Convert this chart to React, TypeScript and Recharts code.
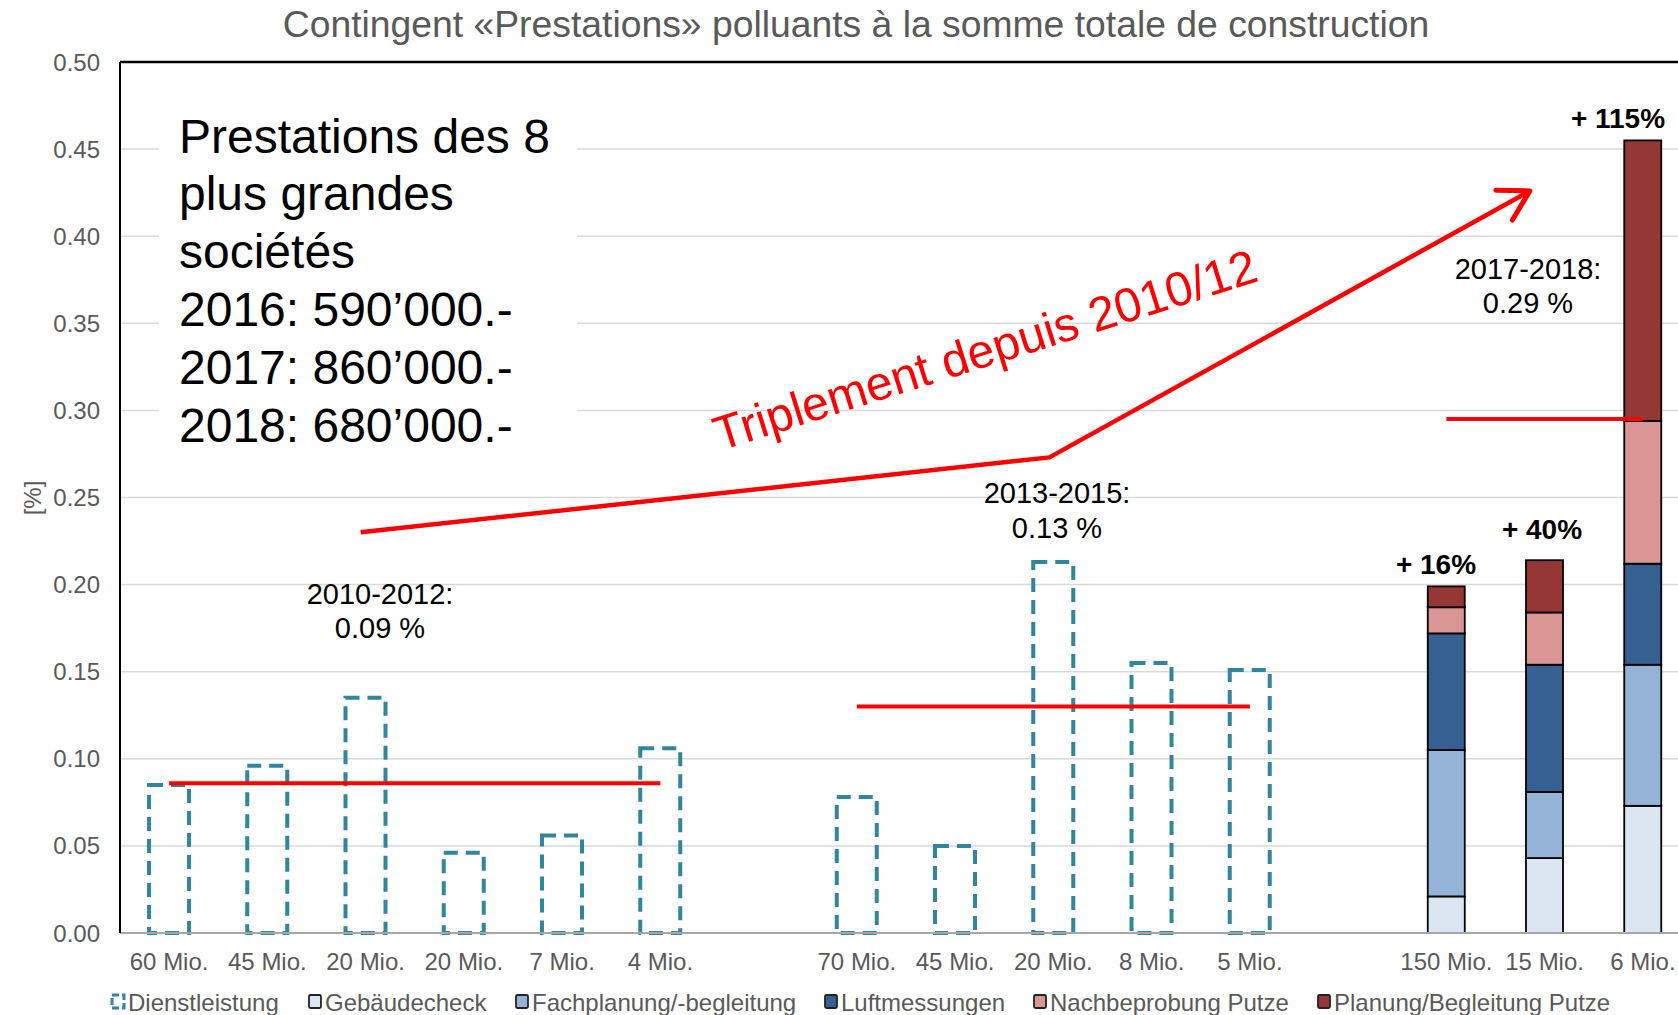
import React from "react";
import {
  ComposedChart,
  Bar,
  Line,
  XAxis,
  YAxis,
  CartesianGrid,
  ReferenceLine,
} from "recharts";

const FONT = '"Liberation Sans", Arial, sans-serif';

const categories = [
  "60 Mio.", "45 Mio.", "20 Mio.", "20 Mio.", "7 Mio.", "4 Mio.", "",
  "70 Mio.", "45 Mio.", "20 Mio.", "8 Mio.", "5 Mio.", "",
  "150 Mio.", "15 Mio.", "6 Mio.",
];

const yTicks = [0, 0.05, 0.1, 0.15, 0.2, 0.25, 0.3, 0.35, 0.4, 0.45, 0.5];

const dienstleistung = [0.085, 0.096, 0.135, 0.046, 0.056, 0.106, null, 0.078, 0.05, 0.213, 0.155, 0.151, null, null, null, null];
const gebaeudecheck = [null, null, null, null, null, null, null, null, null, null, null, null, null, 0.021, 0.043, 0.073];
const fachplanung = [null, null, null, null, null, null, null, null, null, null, null, null, null, 0.084, 0.038, 0.081];
const luftmessungen = [null, null, null, null, null, null, null, null, null, null, null, null, null, 0.067, 0.073, 0.058];
const nachbeprobung = [null, null, null, null, null, null, null, null, null, null, null, null, null, 0.015, 0.03, 0.082];
const planungPutze = [null, null, null, null, null, null, null, null, null, null, null, null, null, 0.012, 0.03, 0.161];

// period averages (red horizontal lines)
const avg2010 = [0.086, 0.086, 0.086, 0.086, 0.086, 0.086, null, null, null, null, null, null, null, null, null, null];
const avg2013 = [null, null, null, null, null, null, null, 0.13, 0.13, 0.13, 0.13, 0.13, null, null, null, null];
const avg2017 = [null, null, null, null, null, null, null, null, null, null, null, null, null, 0.295, 0.295, 0.295];

// trend arrow, x in category units
const trendX = [2.45, 9.46, 14.35];
const trendY = [0.23, 0.273, 0.426];

const stackSeries = [
  { key: "geb", name: "Gebäudecheck", color: "#DCE6F2", values: gebaeudecheck },
  { key: "fach", name: "Fachplanung/-begleitung", color: "#95B3D7", values: fachplanung },
  { key: "luft", name: "Luftmessungen", color: "#366092", values: luftmessungen },
  { key: "nach", name: "Nachbeprobung Putze", color: "#DA9694", values: nachbeprobung },
  { key: "plan", name: "Planung/Begleitung Putze", color: "#953735", values: planungPutze },
];

const boxLines = [
  "Prestations des 8",
  "plus grandes",
  "sociétés",
  "2016: 590’000.-",
  "2017: 860’000.-",
  "2018: 680’000.-",
];

const chartData = categories.map((name, i) => {
  const row: Record<string, any> = {
    key: `c${i}`,
    name,
    dienst: dienstleistung[i],
    avgA: avg2010[i],
    avgB: avg2013[i],
    avgC: avg2017[i],
  };
  stackSeries.forEach((s) => {
    row[s.key] = s.values[i];
  });
  return row;
});

const trendData = trendX.map((x, i) => ({ x, y: trendY[i] }));

function StackRect(props: any) {
  const { x, y, width, height, fill } = props;
  if (!height || !width) return <g />;
  return (
    <rect
      x={x + 1.5}
      y={y}
      width={width - 3}
      height={height}
      fill={fill}
      stroke="#000"
      strokeWidth={1.8}
    />
  );
}

function ArrowDot(props: any) {
  const { cx, cy, index, points } = props;
  if (index !== trendY.length - 1 || cx == null) return <g key={`t-${index}`} />;
  let ang = (-29 * Math.PI) / 180;
  if (points && points.length > 1) {
    const p = points[points.length - 2];
    ang = Math.atan2(cy - p.y, cx - p.x);
  }
  const len = 34;
  const spread = Math.PI / 6;
  const a1 = ang + Math.PI - spread;
  const a2 = ang + Math.PI + spread;
  return (
    <path
      key={`t-${index}`}
      d={`M${cx + len * Math.cos(a1)},${cy + len * Math.sin(a1)} L${cx},${cy} L${cx + len * Math.cos(a2)},${cy + len * Math.sin(a2)}`}
      stroke="#FF0000"
      strokeWidth={5}
      fill="none"
      strokeLinecap="round"
      strokeLinejoin="round"
    />
  );
}

const legendItems = [
  { name: "Dienstleistung", color: "none", dashed: true, x: 112 },
  { name: stackSeries[0].name, color: stackSeries[0].color, x: 309 },
  { name: stackSeries[1].name, color: stackSeries[1].color, x: 516 },
  { name: stackSeries[2].name, color: stackSeries[2].color, x: 825 },
  { name: stackSeries[3].name, color: stackSeries[3].color, x: 1034 },
  { name: stackSeries[4].name, color: stackSeries[4].color, x: 1318 },
];

function Overlay() {
  return (
    <svg
      width={1678}
      height={1015}
      style={{ position: "absolute", left: 0, top: 0, pointerEvents: "none" }}
      fontFamily={FONT}
    >
      <text x={856} y={24} fontSize={37.3} fill="#595959" textAnchor="middle" dominantBaseline="central">
        Contingent «Prestations» polluants à la somme totale de construction
      </text>
      <text
        x={32}
        y={498}
        fontSize={24}
        fill="#595959"
        textAnchor="middle"
        dominantBaseline="central"
        transform="rotate(-90 32 498)"
      >
        [%]
      </text>

      <rect x={159} y={95} width={418} height={360} fill="#fff" />
      {boxLines.map((t, i) => (
        <text key={t} x={179} y={136 + i * 57.8} fontSize={48} fill="#000" dominantBaseline="central">
          {t}
        </text>
      ))}

      <g fontSize={29} fill="#000" textAnchor="middle" dominantBaseline="central">
        <text x={380} y={594}>2010-2012:</text>
        <text x={380} y={628}>0.09 %</text>
        <text x={1057} y={493}>2013-2015:</text>
        <text x={1057} y={528}>0.13 %</text>
        <text x={1528} y={269}>2017-2018:</text>
        <text x={1528} y={303}>0.29 %</text>
      </g>

      <g fontSize={28} fontWeight="bold" fill="#000" textAnchor="middle" dominantBaseline="central">
        <text x={1436} y={564}>+ 16%</text>
        <text x={1542} y={529}>+ 40%</text>
        <text x={1618} y={118}>+ 115%</text>
      </g>

      <text
        x={985}
        y={350}
        fontSize={48}
        fill="#FF0000"
        textAnchor="middle"
        dominantBaseline="central"
        transform="rotate(-17.5 985 350)"
      >
        Triplement depuis 2010/12
      </text>

      {legendItems.map((it) => (
        <g key={it.name}>
          {it.dashed ? (
            <rect x={it.x} y={995} width={12} height={13} fill="none" stroke="#31859C" strokeWidth={3} strokeDasharray="7 3" />
          ) : (
            <rect x={it.x} y={995} width={12} height={13} fill={it.color} stroke="#222" strokeWidth={1.8} rx={1.5} />
          )}
          <text x={it.x + 16} y={1002} fontSize={24} fill="#595959" dominantBaseline="central">
            {it.name}
          </text>
        </g>
      ))}
    </svg>
  );
}

export default function App() {
  return (
    <div
      style={{
        position: "absolute",
        left: 0,
        top: 0,
        width: 1678,
        height: 1015,
        overflow: "hidden",
        background: "#fff",
        fontFamily: FONT,
      }}
    >
      <ComposedChart
        width={1692}
        height={1015}
        data={chartData}
        margin={{ top: 62, right: 0, bottom: 0, left: 0 }}
        barSize={40}
      >
        <CartesianGrid vertical={false} stroke="#D9D9D9" strokeWidth={1.5} />
        <XAxis
          dataKey="key"
          height={82}
          interval={0}
          tickFormatter={(_v: any, i: number) => categories[i]}
          tick={{ fill: "#595959", fontSize: 24, fontFamily: FONT }}
          tickLine={false}
          tickMargin={14}
          axisLine={{ stroke: "#A6A6A6", strokeWidth: 2 }}
        />
        <XAxis xAxisId="trend" type="number" dataKey="x" domain={[0, 16]} hide allowDataOverflow />
        <YAxis
          width={120}
          domain={[0, 0.5]}
          ticks={yTicks}
          interval={0}
          tickFormatter={(v: number) => v.toFixed(2)}
          tick={{ fill: "#595959", fontSize: 24, fontFamily: FONT }}
          tickLine={false}
          tickMargin={14}
          axisLine={{ stroke: "#000", strokeWidth: 2 }}
        />
        <ReferenceLine y={0.5} stroke="#000" strokeWidth={2.5} />
        <Bar
          dataKey="dienst"
          stackId="s"
          fill="none"
          stroke="#31859C"
          strokeWidth={4}
          strokeDasharray="14 8"
          isAnimationActive={false}
        />
        {stackSeries.map((s) => (
          <Bar
            key={s.key}
            dataKey={s.key}
            name={s.name}
            stackId="s"
            fill={s.color}
            shape={<StackRect />}
            isAnimationActive={false}
          />
        ))}
        {["avgA", "avgB", "avgC"].map((k) => (
          <Line
            key={k}
            dataKey={k}
            stroke="#FF0000"
            strokeWidth={4}
            dot={false}
            activeDot={false}
            connectNulls={false}
            isAnimationActive={false}
          />
        ))}
        <Line
          xAxisId="trend"
          data={trendData}
          dataKey="y"
          stroke="#FF0000"
          strokeWidth={4.5}
          dot={ArrowDot}
          activeDot={false}
          isAnimationActive={false}
        />
      </ComposedChart>
      <Overlay />
    </div>
  );
}
